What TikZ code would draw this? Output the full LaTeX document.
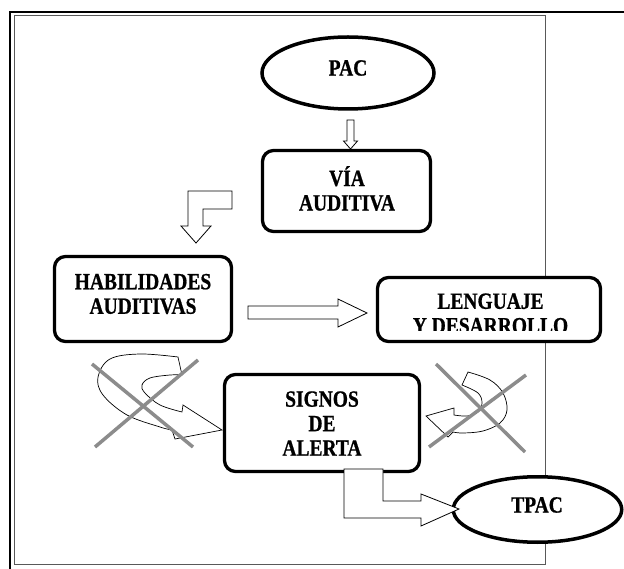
\documentclass[tikz,border=0pt]{standalone}
\usepackage{fontspec}
\setmainfont{Liberation Serif}[FakeStretch=0.84, BoldFeatures={FakeBold=0.8}]
\usetikzlibrary{shapes.geometric}
\tikzset{
  lbl/.style={font=\bfseries\fontsize{23.2}{24.5}\selectfont, align=center, inner sep=0pt, text=black},
  boxnode/.style={draw=black, fill=white, line width=3.3pt, rounded corners=11pt, inner sep=0pt},
  ellnode/.style={ellipse, draw=black, fill=white, line width=3.5pt, inner sep=0pt},
  blockarrow/.style={draw=black, fill=white, line width=0.8pt, line join=miter},
  curvarrow/.style={draw=black, fill=white, line width=0.7pt},
  crossline/.style={draw=black!45, line width=3.5pt},
}
\begin{document}
\begin{tikzpicture}[x=1pt,y=-1pt]
\useasboundingbox (0,0) rectangle (624,569);
% frame
\draw[black!65, line width=1pt] (14,16) rectangle (545,564);
\draw[black, line width=1.6pt] (10,569) -- (10,12) -- (624,12);

% shapes
\node[ellnode, minimum width=172pt, minimum height=72pt] (pac) at (348,73) {};
\node[lbl] (pact) at (348,68) {PAC};

\node[boxnode, minimum width=168pt, minimum height=81pt] (via) at (346.5,191) {};
\node[lbl] (viat) at (347,188.5) {VÍA\\AUDITIVA};

\node[boxnode, minimum width=177pt, minimum height=85pt] (hab) at (143,299) {};
\node[lbl] (habt) at (143,294) {HABILIDADES\\AUDITIVAS};

\node[boxnode, minimum width=223pt, minimum height=64pt] (len) at (489,309.5) {};
\begin{scope}
\clip (376,276) rectangle (602,331);
\node[lbl] (lent) at (490.5,313.5) {LENGUAJE\\Y DESARROLLO};
\end{scope}

\node[boxnode, minimum width=195pt, minimum height=97pt] (sig) at (322,423) {};
\node[lbl] (sigt) at (322,423.5) {SIGNOS\\DE\\ALERTA};

\node[ellnode, minimum width=168.5pt, minimum height=65.5pt] (tpac) at (537.5,509.5) {};
\node[lbl] (tpact) at (537,505) {TPAC};

% block arrows
\draw[blockarrow] (347,120) -- (354,120) -- (354,141) -- (357.5,141) -- (350.5,149) -- (343.5,141) -- (347,141) -- cycle;
\draw[blockarrow] (232,191) -- (188,191) -- (188,226) -- (181,226) -- (196,243) -- (211,226) -- (203,226) -- (203,209) -- (232,209) -- cycle;
\draw[blockarrow] (248,306) -- (338,306) -- (338,299) -- (367,313) -- (338,327) -- (338,319) -- (248,319) -- cycle;
\draw[blockarrow] (344,469) -- (383,469) -- (383,501) -- (421,501) -- (421,494) -- (459,509) -- (421,526) -- (421,518) -- (344,518) -- cycle;

% curved arrows
\draw[curvarrow] (178,357) -- plot[smooth, tension=0.6] coordinates {(178,357) (140,354) (110,359) (98,377) (103,395) (127,415) (160,427) (172,430)}
  -- (175,439) -- (222,430) -- (183,405) -- (182,412)
  -- plot[smooth, tension=0.6] coordinates {(182,412) (160,405) (145,393) (142,385) (150,378) (170,375) (182,375)} -- cycle;
\draw[curvarrow] (468,372) -- plot[smooth, tension=0.6] coordinates {(468,372) (490,380) (503,393) (507,410) (500,423) (483,431) (463,433) (453,432)}
  -- (448,437) -- (426,416) -- (454,408) -- (454,415)
  -- plot[smooth, tension=0.6] coordinates {(454,415) (467,416) (478,412) (482,403) (478,393) (462,385)} -- cycle;

% crosses
\draw[crossline] (92,364) -- (193,447);
\draw[crossline] (198,360) -- (95,447);
\draw[crossline] (436,364) -- (525,452);
\draw[crossline] (526,375) -- (429,447);
\end{tikzpicture}
\end{document}
